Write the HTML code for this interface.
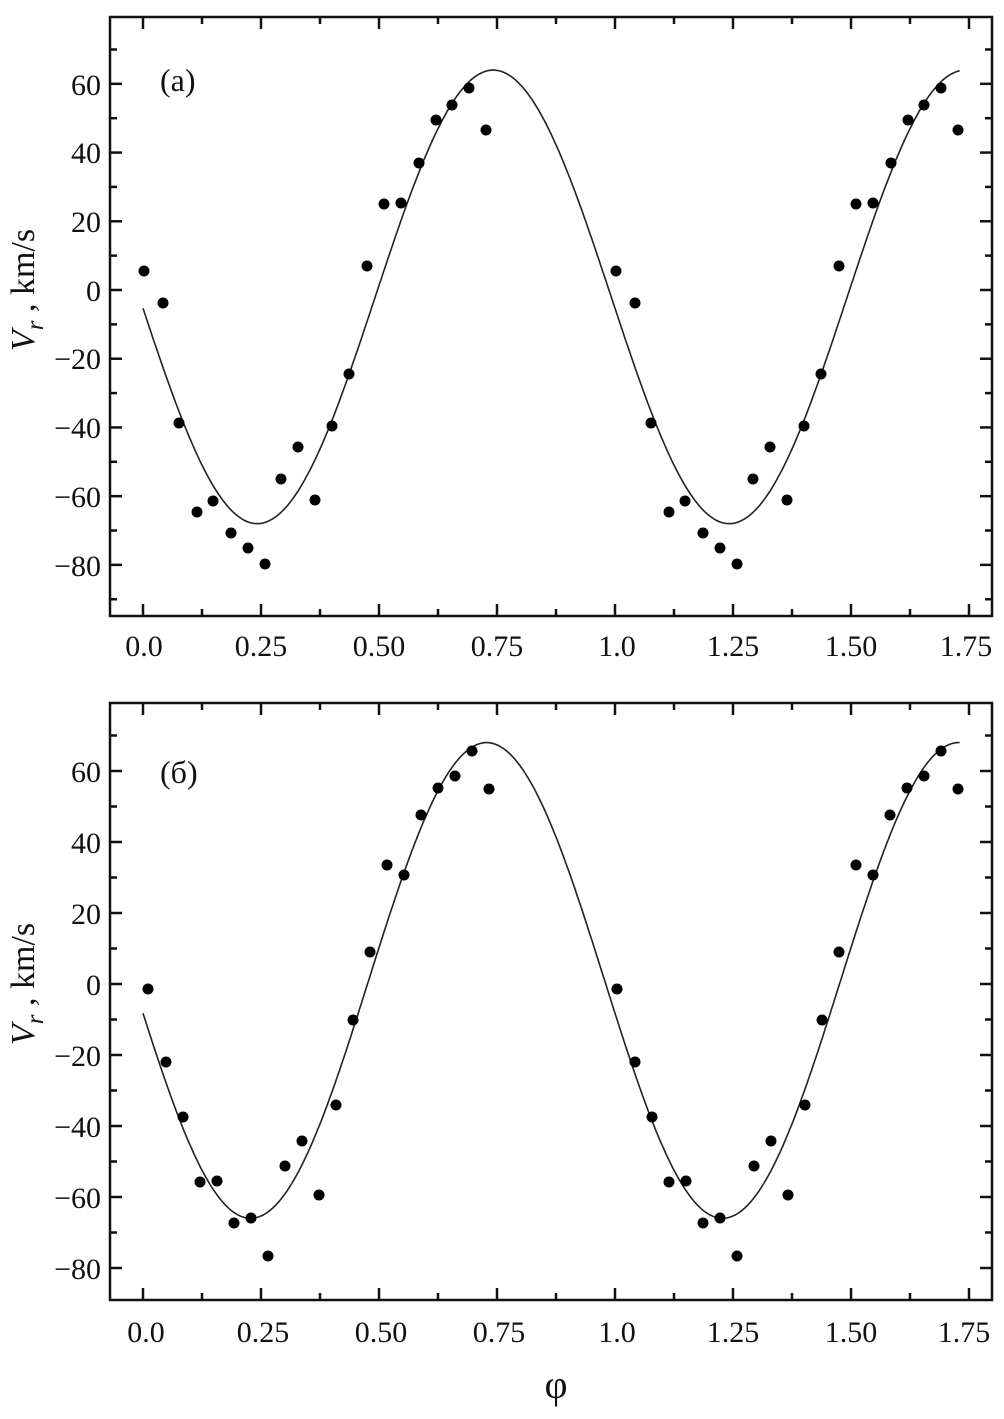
<!DOCTYPE html>
<html><head><meta charset="utf-8"><style>
html,body{margin:0;padding:0;background:#fff;}
svg{display:block;}
text{font-family:"Liberation Serif","Times New Roman",serif;fill:#111;}
</style></head><body>
<svg id="s" width="1004" height="1419" viewBox="0 0 1004 1419" xmlns="http://www.w3.org/2000/svg">
<g id="g"></g>
<g font-size="30" text-anchor="end">
<text x="101" y="95">60</text><text x="101" y="163">40</text><text x="101" y="232">20</text><text x="101" y="301">0</text>
<text x="101" y="369">−20</text><text x="101" y="438">−40</text><text x="101" y="507">−60</text><text x="101" y="576">−80</text>
<text x="101" y="782">60</text><text x="101" y="853">40</text><text x="101" y="924">20</text><text x="101" y="995">0</text>
<text x="101" y="1066">−20</text><text x="101" y="1137">−40</text><text x="101" y="1208">−60</text><text x="101" y="1279">−80</text>
</g>
<g font-size="30" text-anchor="middle">
<text x="144" y="656">0.0</text><text x="261" y="656">0.25</text><text x="379" y="656">0.50</text><text x="497" y="656">0.75</text>
<text x="617" y="656">1.0</text><text x="733" y="656">1.25</text><text x="851" y="656">1.50</text><text x="966" y="656">1.75</text>
<text x="146" y="1342">0.0</text><text x="263" y="1342">0.25</text><text x="381" y="1342">0.50</text><text x="499" y="1342">0.75</text>
<text x="617" y="1342">1.0</text><text x="733" y="1342">1.25</text><text x="851" y="1342">1.50</text><text x="964" y="1342">1.75</text>
</g>
<text x="160" y="91" font-size="32">(a)</text>
<text x="160" y="783" font-size="32">(б)</text>
<text x="556" y="1398" font-size="40" text-anchor="middle">φ</text>
<text transform="translate(34,290) rotate(-90)" font-size="34" text-anchor="middle"><tspan font-style="italic">V</tspan><tspan font-style="italic" font-size="25" dy="9">r</tspan><tspan dy="-9"> , km/s</tspan></text>
<text transform="translate(34,984) rotate(-90)" font-size="34" text-anchor="middle"><tspan font-style="italic">V</tspan><tspan font-style="italic" font-size="25" dy="9">r</tspan><tspan dy="-9"> , km/s</tspan></text>
</svg>
<script>
var g=document.getElementById('g'),NS="http://www.w3.org/2000/svg";
function el(t,a){var e=document.createElementNS(NS,t);for(var k in a)e.setAttribute(k,a[k]);g.appendChild(e);return e;}
function panel(top,bot,y0,sc,pts,mean,amp,ph,shift){
 var L=110,R=992,x0=143,xs=472;
 el('rect',{x:L,y:top,width:R-L,height:bot-top,fill:'none',stroke:'#111','stroke-width':2.5});
 for(var i=0;i<=14;i++){var x=x0+i*0.125*xs;if(x>R)break;var len=i%2?7:12;
  el('line',{x1:x,y1:bot,x2:x,y2:bot-len,stroke:'#111','stroke-width':2.5});
  el('line',{x1:x,y1:top,x2:x,y2:top+len,stroke:'#111','stroke-width':2.5});}
 for(var v=-90;v<=70;v+=10){var y=y0-v*sc;if(y<top+2||y>bot-2)continue;var len=(v%20==0)?12:7;
  el('line',{x1:L,y1:y,x2:L+len,y2:y,stroke:'#111','stroke-width':2.5});
  el('line',{x1:R,y1:y,x2:R-len,y2:y,stroke:'#111','stroke-width':2.5});}
 var d='';for(var p=0;p<=1.73;p+=0.005){var v=mean-amp*Math.cos(2*Math.PI*(p-ph));d+=(d?'L':'M')+(x0+p*xs).toFixed(1)+' '+(y0-v*sc).toFixed(1);}
 el('path',{d:d,fill:'none',stroke:'#222','stroke-width':1.6});
 pts.forEach(function(q){el('circle',{cx:q[0],cy:q[1],r:5.5,fill:'#000'});el('circle',{cx:q[0]+shift,cy:q[1],r:5.5,fill:'#000'});});
}
panel(17,616,290,3.436,[[144,271],[163,303],[179,423],[197,512],[213,501],[231,533],[248,548],[265,564],[281,479],[298,447],[315,500],[332,426],[349,374],[367,266],[384,204],[401,203],[419,163],[436,120],[452,105],[469,88],[486,130]],-2,66,0.242,472);
panel(703,1300,984,3.55,[[148,989],[166,1062],[183,1117],[200,1182],[217,1181],[234,1223],[251,1218],[268,1256],[285,1166],[302,1141],[319,1195],[336,1105],[353,1020],[370,952],[387,865],[404,875],[421,815],[438,788],[455,776],[472,751],[489,789]],1,67,0.228,469);
</script>
</body></html>
